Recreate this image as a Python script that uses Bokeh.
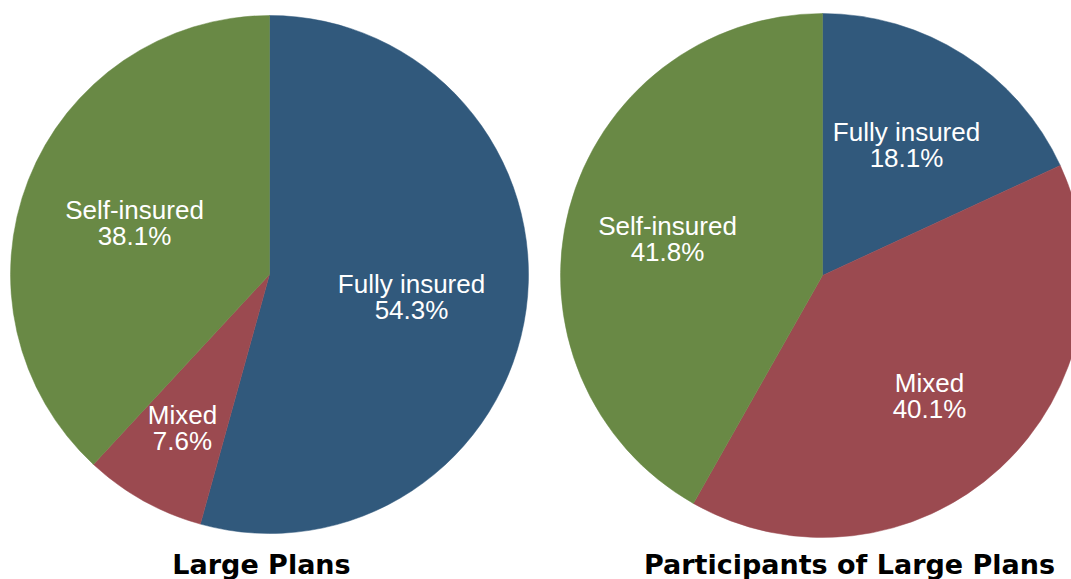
import numpy as np
from bokeh.plotting import figure
from bokeh.models import Range1d, ColumnDataSource
from bokeh.core.properties import value
from bokeh.embed import file_html
from bokeh.resources import INLINE

# ---- data ----
titles = ["Large Plans", "Participants of Large Plans"]
categories = ["Fully insured", "Mixed", "Self-insured"]
large_plans = [54.3, 7.6, 38.1]
participants = [18.1, 40.1, 41.8]
colors = ["#31597c", "#9b4a50", "#698945"]

# ---- layout (pixels, y measured from top) ----
W, H = 1071, 579
centers = [(269, 274), (822, 275)]
radii = [259, 262]
title_x = [261, 849]
title_base = 564
# label anchor: (center x, first-line baseline) per category
label_pos = [
    [(411, 283), (182, 414), (134, 209)],
    [(906, 131), (929, 382), (667, 225)],
]
line_gap = 26

p = figure(width=W, height=H, x_range=Range1d(0, W), y_range=Range1d(0, H),
           min_border=0, toolbar_location=None, output_backend="svg",
           x_axis_location=None, y_axis_location=None)
p.grid.visible = False
p.outline_line_color = None
p.background_fill_color = "white"
p.border_fill_color = "white"

for k, vals in enumerate([large_plans, participants]):
    v = np.array(vals, dtype=float)
    frac = v / v.sum()
    cum_end = np.cumsum(frac)
    cum_start = cum_end - frac
    # clockwise from 12 o'clock
    start = np.pi / 2 - cum_end * 2 * np.pi
    end = np.pi / 2 - cum_start * 2 * np.pi
    cx, cy = centers[k]
    src = ColumnDataSource(dict(start=start, end=end, color=colors,
                                x=[cx] * 3, y=[H - cy] * 3))
    p.wedge(x="x", y="y", radius=radii[k], start_angle="start", end_angle="end",
            fill_color="color", line_color="color", line_width=0.5, source=src)

    lx = [label_pos[k][i][0] for i in range(3)]
    ly1 = [H - label_pos[k][i][1] for i in range(3)]
    ly2 = [H - label_pos[k][i][1] - line_gap for i in range(3)]
    pct = [f"{x:.1f}%" for x in vals]
    p.text(x=lx, y=ly1, text=categories, text_color="white",
           text_font=value("Liberation Sans"), text_font_size="26px",
           text_align="center", text_baseline="alphabetic")
    p.text(x=lx, y=ly2, text=pct, text_color="white",
           text_font=value("Liberation Sans"), text_font_size="26px",
           text_align="center", text_baseline="alphabetic")

p.text(x=title_x, y=[H - title_base] * 2, text=titles, text_color="black",
       text_font=value("DejaVu Sans"), text_font_style="bold",
       text_font_size="27px", text_align="center", text_baseline="alphabetic")

open("out.html", "w").write(file_html(p, INLINE))
